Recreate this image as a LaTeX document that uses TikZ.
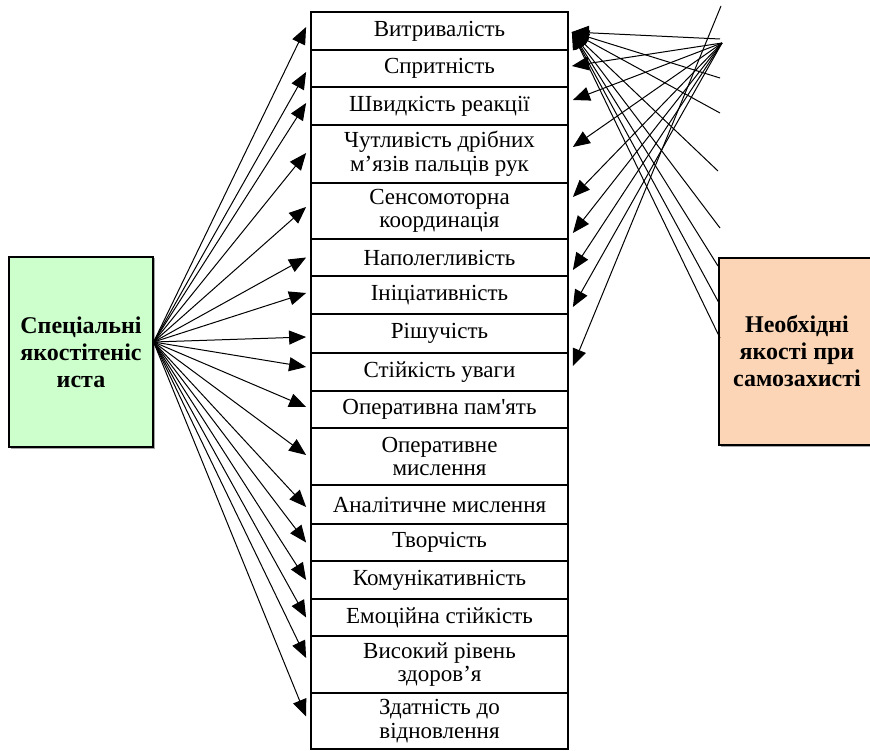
\documentclass[tikz,border=0pt]{standalone}
\usepackage{fontspec}
\setmainfont{Liberation Serif}
\newfontfamily\libser{Liberation Serif}
\usetikzlibrary{arrows.meta,shadows}
\definecolor{specgreen}{HTML}{CCFFCC}
\definecolor{needpeach}{HTML}{FBD5B5}
\begin{document}
\begin{tikzpicture}[x=1pt,y=-1pt,
  rowbox/.style={draw,line width=1.8pt,minimum width=257pt,inner sep=0pt,align=center,
    font=\libser\fontsize{23}{23.5}\selectfont},
  sidebox/.style={draw,line width=1.2pt,inner sep=0pt,align=center,
    font=\libser\bfseries\fontsize{24}{27}\selectfont,
    drop shadow={shadow xshift=1.5pt,shadow yshift=-1.5pt,fill=gray!70,opacity=1}},
  conn/.style={line width=1pt,-{Triangle[length=17pt,width=14pt]}},
  plainline/.style={line width=1pt}]
\useasboundingbox (0,0) rectangle (870,751);

% side boxes
\node[sidebox,fill=specgreen,minimum width=144pt,minimum height=190pt] (spec) at (81,352)
  {Спеціальні\\якостітеніс\\иста};
\node[sidebox,fill=needpeach,minimum width=156pt,minimum height=187pt] (need) at (797,351.5)
  {Необхідні\\якості при\\самозахисті};

% central column
\node[rowbox,minimum height=38pt] (r1) at (439.5,31) {Витривалість};
\node[rowbox,minimum height=37pt] (r2) at (439.5,68.5) {Спритність};
\node[rowbox,minimum height=38pt] (r3) at (439.5,106) {Швидкість реакції};
\node[rowbox,minimum height=58pt] (r4) at (439.5,154) {Чутливість дрібних\\м’язів пальців рук};
\node[rowbox,minimum height=56pt] (r5) at (439.5,211) {Сенсомоторна\\координація};
\node[rowbox,minimum height=37pt] (r6) at (439.5,257.5) {Наполегливість};
\node[rowbox,minimum height=38pt] (r7) at (439.5,295) {Ініціативність};
\node[rowbox,minimum height=39pt] (r8) at (439.5,333.5) {Рішучість};
\node[rowbox,minimum height=38pt] (r9) at (439.5,372) {Стійкість уваги};
\node[rowbox,minimum height=37pt] (r10) at (439.5,409.5) {Оперативна пам'ять};
\node[rowbox,minimum height=57pt] (r11) at (439.5,456.5) {Оперативне\\мислення};
\node[rowbox,minimum height=39pt] (r12) at (439.5,504.5) {Аналітичне мислення};
\node[rowbox,minimum height=37pt] (r13) at (439.5,542.5) {Творчість};
\node[rowbox,minimum height=38pt] (r14) at (439.5,580) {Комунікативність};
\node[rowbox,minimum height=37pt] (r15) at (439.5,617.5) {Емоційна стійкість};
\node[rowbox,minimum height=57pt] (r16) at (439.5,664.5) {Високий рівень\\здоров’я};
\node[rowbox,minimum height=56pt] (r17) at (439.5,721) {Здатність до\\відновлення};

% left fan
\coordinate (ls) at ([yshift=10pt]spec.east);
\draw[conn] (ls) -- ([xshift=-4pt,yshift=4pt]r1.west);
\draw[conn] (ls) -- ([xshift=-4pt,yshift=-3.5pt]r2.west);
\draw[conn] (ls) -- ([xshift=-4pt,yshift=3pt]r3.west);
\draw[conn] (ls) -- ([xshift=-4pt,yshift=1pt]r4.west);
\draw[conn] (ls) -- ([xshift=-4pt,yshift=4pt]r5.west);
\draw[conn] (ls) -- ([xshift=-4pt]r6.west);
\draw[conn] (ls) -- ([xshift=-4pt,yshift=2pt]r7.west);
\draw[conn] (ls) -- ([xshift=-4pt,yshift=-3.5pt]r8.west);
\draw[conn] (ls) -- ([xshift=-4pt,yshift=5pt]r9.west);
\draw[conn] (ls) -- ([xshift=-4pt,yshift=2.5pt]r10.west);
\draw[conn] (ls) -- ([xshift=-4pt,yshift=1.5pt]r11.west);
\draw[conn] (ls) -- ([xshift=-4pt,yshift=-2.5pt]r12.west);
\draw[conn] (ls) -- ([xshift=-4pt]r13.west);
\draw[conn] (ls) -- ([xshift=-4pt]r14.west);
\draw[conn] (ls) -- ([xshift=-4pt]r15.west);
\draw[conn] (ls) -- ([xshift=-4pt,yshift=6.5pt]r16.west);
\draw[conn] (ls) -- ([xshift=-4pt,yshift=4.5pt]r17.west);

% right side free ends
\coordinate (p0) at (721,6);
\coordinate (pA) at (722,43);
\coordinate (q1) at (720,39);
\coordinate (q2) at (720,78);
\coordinate (q3) at (720,113);
\coordinate (q4) at (718,171);
\coordinate (q5) at (720,228);
\coordinate (q6) at (718,266);
\coordinate (q7) at (719,303);
\coordinate (q8) at (720,338);

% arrows converging on Витривалість
\foreach \q in {q1,q2,q3,q4,q5,q6,q7,q8}
  \draw[conn] (\q) -- ([xshift=3pt,yshift=-1pt]r1.east);

% arrows to the other rows
\draw[conn] (pA) -- ([xshift=3pt,yshift=2.5pt]r2.east);
\draw[conn] (pA) -- ([xshift=4pt,yshift=6pt]r3.east);
\draw[conn] (pA) -- ([xshift=4pt,yshift=7pt]r4.east);
\draw[conn] (pA) -- ([xshift=4pt,yshift=14pt]r5.east);
\draw[conn] (pA) -- ([xshift=4pt,yshift=24.5pt]r6.east);
\draw[conn] (pA) -- ([xshift=4pt,yshift=25pt]r7.east);
\draw[conn] (pA) -- ([xshift=4pt,yshift=26.5pt]r8.east);
\draw[conn] (p0) -- ([xshift=4pt,yshift=6pt]r9.east);
\end{tikzpicture}
\end{document}
